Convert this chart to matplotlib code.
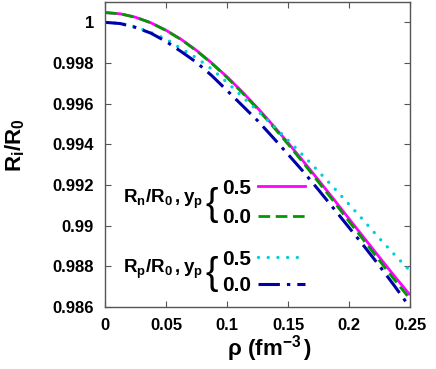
import matplotlib
matplotlib.use("Agg")
import matplotlib.pyplot as plt

plt.rcParams["font.family"] = ["Liberation Sans", "DejaVu Sans"]
plt.rcParams["font.weight"] = "bold"
plt.rcParams["mathtext.fontset"] = "custom"
plt.rcParams["mathtext.rm"] = "Liberation Sans:bold"
plt.rcParams["mathtext.it"] = "Liberation Sans:bold"
plt.rcParams["mathtext.bf"] = "Liberation Sans:bold"

# density grid (fm^-3)
rho = [0.0, 0.0125, 0.025, 0.0375, 0.05, 0.0625, 0.075, 0.0875, 0.1, 0.1125,
       0.125, 0.1375, 0.15, 0.1625, 0.175, 0.1875, 0.2, 0.2125, 0.225, 0.2375, 0.25]

# Rn/R0, yp = 0.5
rn_05 = [1.00048, 1.00042, 1.00025, 0.99998, 0.99961, 0.99916, 0.99862, 0.99800,
         0.99732, 0.99658, 0.99579, 0.99495, 0.99408, 0.99317, 0.99224, 0.99130,
         0.99034, 0.98939, 0.98844, 0.98750, 0.98659]
# Rn/R0, yp = 0.0
rn_00 = [1.00048, 1.00042, 1.00025, 0.99998, 0.99960, 0.99915, 0.99860, 0.99798,
         0.99729, 0.99654, 0.99574, 0.99489, 0.99401, 0.99309, 0.99214, 0.99119,
         0.99021, 0.98925, 0.98828, 0.98732, 0.98639]
# Rp/R0, yp = 0.5
rp_05 = [1.00000, 0.99995, 0.99978, 0.99950, 0.99918, 0.99870, 0.99825, 0.99770,
         0.99705, 0.99635, 0.99565, 0.99495, 0.99420, 0.99345, 0.99267, 0.99187,
         0.99105, 0.99022, 0.98937, 0.98856, 0.98778]
# Rp/R0, yp = 0.0
rp_00 = [1.00000, 0.99994, 0.99975, 0.99947, 0.99906, 0.99856, 0.99803, 0.99738,
         0.99665, 0.99591, 0.99517, 0.99435, 0.99351, 0.99266, 0.99176, 0.99084,
         0.98991, 0.98898, 0.98802, 0.98702, 0.98598]

xticks = [0, 0.05, 0.1, 0.15, 0.2, 0.25]
xticklabels = ["0", "0.05", "0.1", "0.15", "0.2", "0.25"]
yticks = [0.986, 0.988, 0.99, 0.992, 0.994, 0.996, 0.998, 1.0]
yticklabels = ["0.986", "0.988", "0.99", "0.992", "0.994", "0.996", "0.998", "1"]

fig = plt.figure(figsize=(4.36, 3.69), dpi=100)
ax = fig.add_axes([105 / 436, 62 / 369, 305 / 436, 305 / 369])

ax.plot(rho, rn_05, color="#ff00ff", lw=2.0, solid_capstyle="butt")
ax.plot(rho, rn_00, color="#009a00", lw=2.0, dashes=(4.2, 2.0))
ax.plot(rho, rp_05, color="#00d0d8", lw=2.4, dashes=(0.01, 2.9),
        dash_capstyle="round")
ax.plot(rho, rp_00, color="#0000aa", lw=2.2, dashes=(7.0, 2.3, 1.1, 2.3))

ax.set_xlim(0, 0.25)
ax.set_ylim(0.986, 1.001)
ax.set_xticks(xticks)
ax.set_xticklabels(xticklabels)
ax.set_yticks(yticks)
ax.set_yticklabels(yticklabels)
ax.tick_params(direction="in", top=True, right=True, length=4, width=0.8,
               labelsize=12, pad=8, color="#555555")
for s in ax.spines.values():
    s.set_color("#555555")
    s.set_linewidth(1.0)

ax.set_ylabel(r"$\mathrm{R_i/R_0}$", fontsize=16)
ax.yaxis.set_label_coords(-0.255, 0.53)
ax.set_xlabel(r"$\rho\ \mathrm{(fm^{-3}\,)}$", fontsize=16)
ax.xaxis.set_label_coords(0.54, -0.085)

# hand-made legend with braces
groups = [
    (r"$\mathrm{R_n/R_0\,,y_p}$", [("0.5", "#ff00ff", dict(lw=2.0)),
                                   ("0.0", "#009a00", dict(lw=2.0, dashes=(4.2, 2.0)))],
     [0.396, 0.299]),
    (r"$\mathrm{R_p/R_0\,,y_p}$", [("0.5", "#00d0d8", dict(lw=2.4, dashes=(0.01, 2.9),
                                                            dash_capstyle="round")),
                                   ("0.0", "#0000aa", dict(lw=2.2, dashes=(7.0, 2.3, 1.1, 2.3)))],
     [0.163, 0.076]),
]
for label, entries, ys in groups:
    ymid = sum(ys) / 2
    ax.text(0.321, ymid + 0.005, label, transform=ax.transAxes, ha="right",
            va="center", fontsize=13.5)
    ax.text(0.350, ymid - 0.012, "{", transform=ax.transAxes, ha="center", va="center",
            fontsize=27, fontweight="normal", family="Liberation Sans")
    for (num, col, kw), y in zip(entries, ys):
        ax.text(0.384, y, num, transform=ax.transAxes, ha="left",
                va="center_baseline", fontsize=15)
        ax.plot([0.502, 0.656], [y, y], color=col, transform=ax.transAxes, **kw)

fig.savefig("out.png", dpi=100)
